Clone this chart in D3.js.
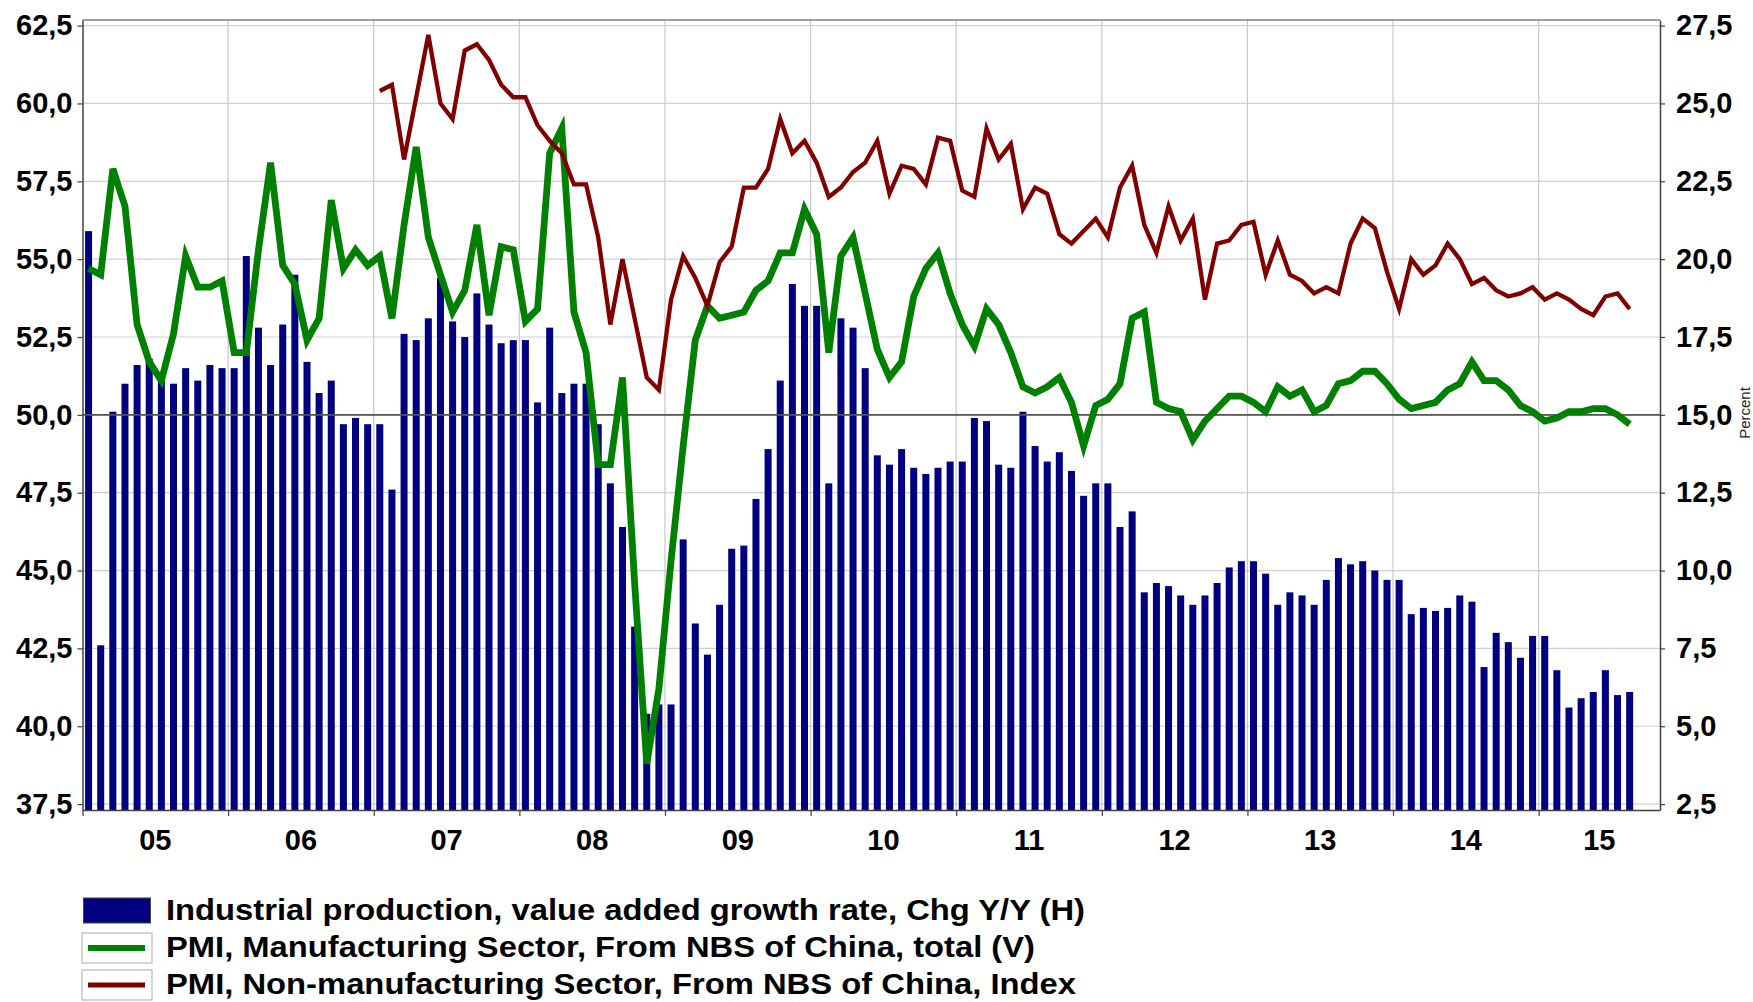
<!DOCTYPE html>
<html>
<head>
<meta charset="utf-8">
<script src="https://cdn.jsdelivr.net/npm/d3@7"></script>
<style>
  body { margin: 0; background: #fff; }
  text { font-family: "Liberation Sans", Arial, sans-serif; }
</style>
</head>
<body>
<div id="chart"></div>
<script>
// monthly data, Jan 2005 .. Aug 2015
var yearLabels = ["05", "06", "07", "08", "09", "10", "11", "12", "13", "14", "15"];

// Industrial production, value added growth rate, Chg Y/Y (right axis)
var ipGrowth = [
  20.9, 7.6, 15.1, 16.0, 16.6, 16.8, 16.1, 16.0, 16.5, 16.1, 16.6, 16.5,
  16.5, 20.1, 17.8, 16.6, 17.9, 19.5, 16.7, 15.7, 16.1, 14.7, 14.9, 14.7,
  14.7, 12.6, 17.6, 17.4, 18.1, 19.4, 18.0, 17.5, 18.9, 17.9, 17.3, 17.4,
  17.4, 15.4, 17.8, 15.7, 16.0, 16.0, 14.7, 12.8, 11.4, 8.2, 5.4, 5.7,
  5.7, 11.0, 8.3, 7.3, 8.9, 10.7, 10.8, 12.3, 13.9, 16.1, 19.2, 18.5,
  18.5, 12.8, 18.1, 17.8, 16.5, 13.7, 13.4, 13.9, 13.3, 13.1, 13.3, 13.5,
  13.5, 14.9, 14.8, 13.4, 13.3, 15.1, 14.0, 13.5, 13.8, 13.2, 12.4, 12.8,
  12.8, 11.4, 11.9, 9.3, 9.6, 9.5, 9.2, 8.9, 9.2, 9.6, 10.1, 10.3,
  10.3, 9.9, 8.9, 9.3, 9.2, 8.9, 9.7, 10.4, 10.2, 10.3, 10.0, 9.7,
  9.7, 8.6, 8.8, 8.7, 8.8, 9.2, 9.0, 6.9, 8.0, 7.7, 7.2, 7.9,
  7.9, 6.8, 5.6, 5.9, 6.1, 6.8, 6.0, 6.1
];

// PMI, Manufacturing Sector (left axis)
var pmiManuf = [
  54.7, 54.5, 57.9, 56.7, 52.9, 51.7, 51.1, 52.6, 55.1, 54.1, 54.1, 54.3,
  52.0, 52.0, 55.3, 58.1, 54.8, 54.2, 52.4, 53.1, 56.9, 54.7, 55.3, 54.8,
  55.1, 53.1, 56.1, 58.6, 55.7, 54.5, 53.3, 54.0, 56.1, 53.2, 55.4, 55.3,
  53.0, 53.4, 58.4, 59.2, 53.3, 52.0, 48.4, 48.4, 51.2, 44.6, 38.8, 41.2,
  45.3, 49.0, 52.4, 53.5, 53.1, 53.2, 53.3, 54.0, 54.3, 55.2, 55.2, 56.6,
  55.8, 52.0, 55.1, 55.7, 53.9, 52.1, 51.2, 51.7, 53.8, 54.7, 55.2, 53.9,
  52.9, 52.2, 53.4, 52.9, 52.0, 50.9, 50.7, 50.9, 51.2, 50.4, 49.0, 50.3,
  50.5, 51.0, 53.1, 53.3, 50.4, 50.2, 50.1, 49.2, 49.8, 50.2, 50.6, 50.6,
  50.4, 50.1, 50.9, 50.6, 50.8, 50.1, 50.3, 51.0, 51.1, 51.4, 51.4, 51.0,
  50.5, 50.2, 50.3, 50.4, 50.8, 51.0, 51.7, 51.1, 51.1, 50.8, 50.3, 50.1,
  49.8, 49.9, 50.1, 50.1, 50.2, 50.2, 50.0, 49.7
];

// PMI, Non-manufacturing Sector (left axis), starts Jan 2007
var nonManufStart = 24;
var pmiNonManuf = [
  60.4, 60.6, 58.2, 60.2, 62.2, 60.0, 59.5, 61.7, 61.9, 61.4, 60.6, 60.2,
  60.2, 59.3, 58.8, 58.4, 57.4, 57.4, 55.7, 52.9, 55.0, 53.1, 51.2, 50.8,
  53.7, 55.1, 54.4, 53.5, 54.9, 55.4, 57.3, 57.3, 57.9, 59.5, 58.4, 58.8,
  58.1, 57.0, 57.3, 57.8, 58.1, 58.8, 57.1, 58.0, 57.9, 57.4, 58.9, 58.8,
  57.2, 57.0, 59.2, 58.2, 58.7, 56.6, 57.3, 57.1, 55.8, 55.5, 55.9, 56.3,
  55.7, 57.3, 58.0, 56.1, 55.2, 56.7, 55.6, 56.3, 53.7, 55.5, 55.6, 56.1,
  56.2, 54.5, 55.6, 54.5, 54.3, 53.9, 54.1, 53.9, 55.5, 56.3, 56.0, 54.6,
  53.4, 55.0, 54.5, 54.8, 55.5, 55.0, 54.2, 54.4, 54.0, 53.8, 53.9, 54.1,
  53.7, 53.9, 53.7, 53.4, 53.2, 53.8, 53.9, 53.4
];

var leftTicks = [37.5, 40, 42.5, 45, 47.5, 50, 52.5, 55, 57.5, 60, 62.5];
var rightTicks = [2.5, 5, 7.5, 10, 12.5, 15, 17.5, 20, 22.5, 25, 27.5];

var legendLabels = [
  "Industrial production, value added growth rate, Chg Y/Y (H)",
  "PMI, Manufacturing Sector, From NBS of China, total (V)",
  "PMI, Non-manufacturing Sector, From NBS of China, Index"
];

var width = 1753, height = 1002;
var margin = { top: 20, right: 93, bottom: 192, left: 82.5 };
var plotRight = width - margin.right,
    plotBottom = height - margin.bottom;

var nMonths = 130; // Jan 2005 .. Oct 2015 slots

var svg = d3.select("#chart").append("svg")
  .attr("width", width)
  .attr("height", height);

var locale = d3.formatLocale({ decimal: ",", thousands: ".", grouping: [3], currency: ["", ""] });
var fmt = locale.format(".1f");

var x = d3.scaleLinear().domain([0, nMonths]).range([margin.left, plotRight]);
var yL = d3.scaleLinear().domain([37.31, 62.68]).range([plotBottom, margin.top]);
var yR = d3.scaleLinear().domain([2.31, 27.68]).range([plotBottom, margin.top]);

var yearStarts = d3.range(0, nMonths, 12);

// grid
svg.append("g").selectAll("line").data(leftTicks).enter().append("line")
  .attr("x1", margin.left).attr("x2", plotRight)
  .attr("y1", d => yL(d)).attr("y2", d => yL(d))
  .attr("stroke", "#d0d0d0").attr("stroke-width", 1.2);

svg.append("g").selectAll("line").data(yearStarts.slice(1)).enter().append("line")
  .attr("x1", d => x(d)).attr("x2", d => x(d))
  .attr("y1", margin.top).attr("y2", plotBottom)
  .attr("stroke", "#c8c8c8").attr("stroke-width", 1.2);

// bars
var barW = 7;
svg.append("g").selectAll("rect").data(ipGrowth).enter().append("rect")
  .attr("x", (d, i) => x(i + 0.5) - barW / 2)
  .attr("y", d => yR(d))
  .attr("width", barW)
  .attr("height", d => plotBottom - yR(d))
  .attr("fill", "#000080");

// 50 line
svg.append("line")
  .attr("x1", margin.left).attr("x2", plotRight)
  .attr("y1", yL(50)).attr("y2", yL(50))
  .attr("stroke", "#555").attr("stroke-width", 1.6);

// lines
var line = d3.line()
  .x(d => x(d.i + 0.5))
  .y(d => yL(d.v));

svg.append("path")
  .datum(pmiManuf.map((v, i) => ({ i: i, v: v })))
  .attr("d", line)
  .attr("fill", "none")
  .attr("stroke", "#008000")
  .attr("stroke-width", 6.8)
  .attr("stroke-linejoin", "miter");

svg.append("path")
  .datum(pmiNonManuf.map((v, i) => ({ i: i + nonManufStart, v: v })))
  .attr("d", line)
  .attr("fill", "none")
  .attr("stroke", "#800000")
  .attr("stroke-width", 4.3)
  .attr("stroke-linejoin", "miter");

// frame
svg.append("line")
  .attr("x1", margin.left).attr("x2", plotRight)
  .attr("y1", margin.top).attr("y2", margin.top)
  .attr("stroke", "#808080").attr("stroke-width", 1.5);

// axes
var leftAxis = svg.append("g")
  .attr("transform", "translate(" + margin.left + ",0)")
  .call(d3.axisLeft(yL).tickValues(leftTicks).tickFormat(fmt).tickSize(5).tickSizeOuter(0).tickPadding(5));

var rightAxis = svg.append("g")
  .attr("transform", "translate(" + plotRight + ",0)")
  .call(d3.axisRight(yR).tickValues(rightTicks).tickFormat(fmt).tickSize(5).tickSizeOuter(0).tickPadding(11));

var bottomAxis = svg.append("g")
  .attr("transform", "translate(0," + plotBottom + ")")
  .call(d3.axisBottom(x).tickValues(yearStarts).tickFormat("").tickSize(6).tickSizeOuter(0));

[leftAxis, rightAxis, bottomAxis].forEach(function (g) {
  g.select(".domain").attr("stroke", "#404040").attr("stroke-width", 1.5);
  g.selectAll(".tick line").attr("stroke", "#404040").attr("stroke-width", 1.2);
  g.selectAll(".tick text")
    .attr("fill", "#000")
    .style("font-size", "29px")
    .style("font-weight", "bold");
});

// year labels, centred in visible part of each year
svg.append("g").selectAll("text").data(yearLabels).enter().append("text")
  .attr("x", (d, k) => (x(k * 12) + x(Math.min(k * 12 + 12, nMonths))) / 2)
  .attr("y", 850)
  .attr("text-anchor", "middle")
  .style("font-size", "29px")
  .style("font-weight", "bold")
  .text(d => d);

// Percent label
svg.append("text")
  .attr("transform", "translate(1750,413) rotate(-90)")
  .attr("text-anchor", "middle")
  .style("font-size", "15px")
  .attr("fill", "#222")
  .text("Percent");

// legend
var legendRows = [920, 957, 994];
var legendWidths = [919, 869, 910];
var legend = svg.append("g");

legend.append("rect")
  .attr("x", 83.5).attr("y", 898).attr("width", 67).attr("height", 25)
  .attr("fill", "#000080").attr("stroke", "#444").attr("stroke-width", 1);

[["#008000", 6], ["#800000", 5]].forEach(function (s, k) {
  var top = k === 0 ? 933 : 970;
  legend.append("rect")
    .attr("x", 82).attr("y", top).attr("width", 70).attr("height", 30)
    .attr("fill", "#fff").attr("stroke", "#aaa").attr("stroke-width", 1);
  legend.append("line")
    .attr("x1", 88).attr("x2", 145)
    .attr("y1", top + 15).attr("y2", top + 15)
    .attr("stroke", s[0]).attr("stroke-width", s[1]);
});

legend.selectAll("text.lbl").data(legendLabels).enter().append("text")
  .attr("class", "lbl")
  .attr("x", 166)
  .attr("y", (d, i) => legendRows[i])
  .attr("textLength", (d, i) => legendWidths[i])
  .attr("lengthAdjust", "spacingAndGlyphs")
  .style("font-size", "29px")
  .style("font-weight", "bold")
  .text(d => d);
</script>
</body>
</html>
